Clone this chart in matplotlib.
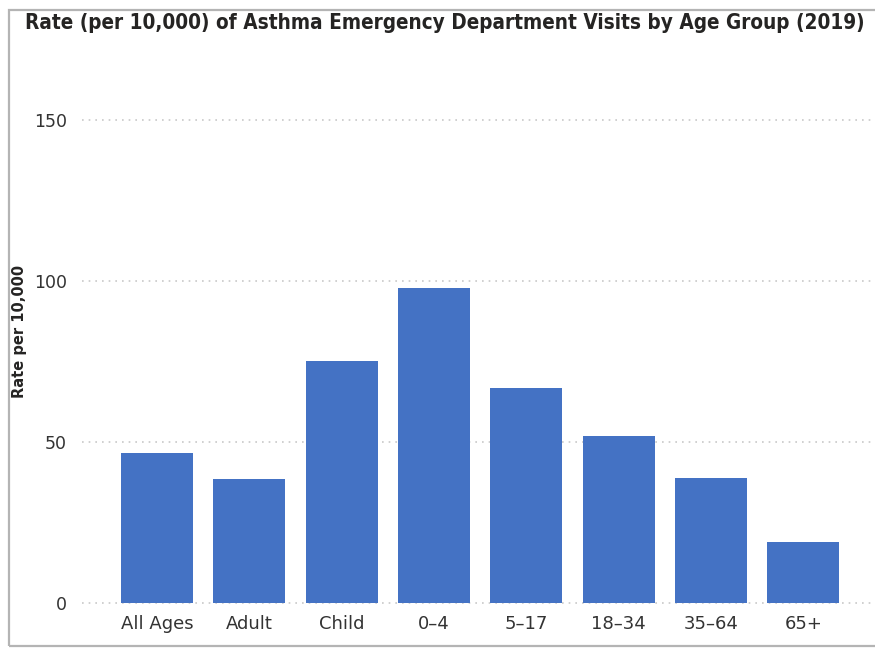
import matplotlib
matplotlib.use("Agg")
import matplotlib.pyplot as plt
from matplotlib.patches import Rectangle

# Asthma ED visit rates per 10,000 by age group, 2019
categories = ["All Ages", "Adult", "Child", "0\u20134", "5\u201317", "18\u201334", "35\u201364", "65+"]
rates = [46.7, 38.5, 75.2, 97.7, 66.7, 51.9, 38.9, 18.9]
y_ticks = [0, 50, 100, 150]
title = "Rate (per 10,000) of Asthma Emergency Department Visits by Age Group (2019)"

W, H, DPI = 875, 649, 100
fig = plt.figure(figsize=(W / DPI, H / DPI), dpi=DPI)

plt.rcParams["font.family"] = ["DejaVu Sans"]

# axes placement in pixels
px_left, px_right = 82, 873
px_zero, px_top = 603, 120
ylo, yhi = -1.0, 151.0
ppu = (px_zero - px_top) / 150.0
bottom = (H - px_zero - (0 - ylo) * ppu) / H
top = (H - px_top + (yhi - 150) * ppu) / H
ax = fig.add_axes([px_left / W, bottom, (px_right - px_left) / W, top - bottom])

spacing = 92.35
x0 = 157
xlo = (px_left - x0) / spacing
xhi = (px_right - x0) / spacing

positions = list(range(len(categories)))
ax.bar(positions, rates, width=72 / spacing, color="#4472C4", zorder=3)

ax.set_xlim(xlo, xhi)
ax.set_ylim(ylo, yhi)
ax.set_yticks(y_ticks)
ax.set_yticklabels([str(t) for t in y_ticks])
ax.set_xticks(positions)
ax.set_xticklabels(categories)

for s in ax.spines.values():
    s.set_visible(False)
ax.tick_params(axis="both", length=0, colors="#333333")
ax.tick_params(axis="y", pad=11, labelsize=12.5)
ax.tick_params(axis="x", pad=6, labelsize=13)
ax.yaxis.grid(True, linestyle=(0, (1, 3)), color="#c8c8c8", linewidth=1.2, zorder=0)
ax.xaxis.grid(False)

ax.set_ylabel("Rate per 10,000", fontsize=10.5, fontweight="bold", color="#252423")
ylab_y = ((H - 331) / H - bottom) / (top - bottom)
ax.yaxis.set_label_coords((27 - px_left) / (px_right - px_left), ylab_y)

t = fig.text(25 / W, 1 - 23 / H, title, fontsize=17, fontweight="bold",
             fontstretch="condensed", color="#252423", ha="left", va="center")
# shrink the title so it spans the panel width
renderer = fig.canvas.get_renderer()
w = t.get_window_extent(renderer).width
target = 843
t.set_fontsize(17 * target / w)

# panel frame
frame = Rectangle((8.5 / W, 3 / H), 1.2, 1 - 10 / H - 3 / H, transform=fig.transFigure,
                  fill=False, edgecolor="#b4b4b4", linewidth=1.6)
fig.patches.append(frame)

fig.savefig("out.png", dpi=DPI)
